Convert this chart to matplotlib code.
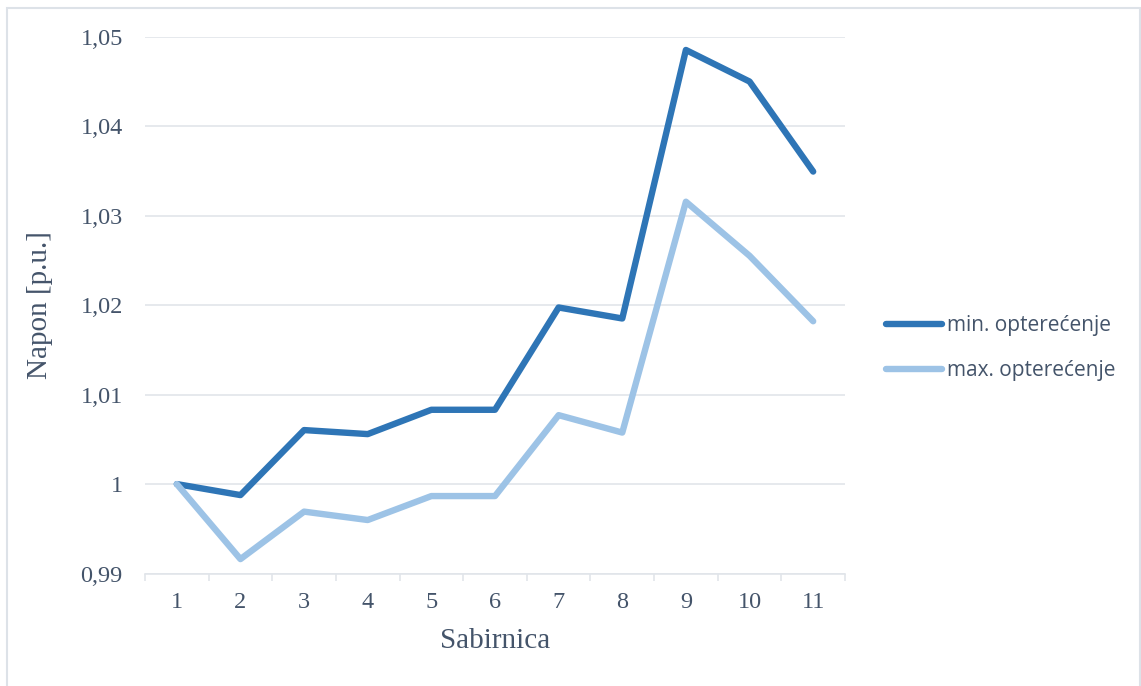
import matplotlib
matplotlib.use("Agg")
import matplotlib.pyplot as plt
from matplotlib.patches import Rectangle
from matplotlib.ticker import FuncFormatter, MultipleLocator

# Podaci
sabirnice = [1, 2, 3, 4, 5, 6, 7, 8, 9, 10, 11]
napon_min = [1.0, 0.99877, 1.00604, 1.00559, 1.00831, 1.00831,
             1.01975, 1.01852, 1.04855, 1.04502, 1.03495]
napon_max = [1.0, 0.99161, 0.99692, 0.99598, 0.99866, 0.99866,
             1.00771, 1.00576, 1.03158, 1.02553, 1.01821]

TEXT = "#44546A"
GRID = "#E1E5EA"
SERIF = "Liberation Serif"

fig = plt.figure(figsize=(11.41, 6.86), dpi=100)
ax = fig.add_axes([145 / 1141, 1 - 573.5 / 686, 700 / 1141, 536.5 / 686])

# okvir oko cijelog grafikona
fig.patches.append(Rectangle((7 / 1141, -0.05), 1133 / 1141, 1.05 - 8.5 / 686,
                             transform=fig.transFigure, fill=False,
                             edgecolor="#DDE2E8", linewidth=1.5))

ax.plot(sabirnice, napon_min, color="#2E75B6", lw=4.6,
        solid_capstyle="round", solid_joinstyle="round", label="min. opterećenje")
ax.plot(sabirnice, napon_max, color="#9DC3E6", lw=4.6,
        solid_capstyle="round", solid_joinstyle="round", label="max. opterećenje")

ax.set_xlim(0.5, 11.5)
ax.set_ylim(0.99, 1.05)
ax.yaxis.set_major_locator(MultipleLocator(0.01))
ax.yaxis.set_major_formatter(FuncFormatter(
    lambda v, _: ("%g" % round(v, 2)).replace(".", ",")))
ax.set_xticks(sabirnice)
ax.set_xticks([i + 0.5 for i in range(0, 12)], minor=True)

ax.grid(axis="y", color=GRID, lw=1.2)
ax.set_axisbelow(True)
for s in ["top", "right", "left"]:
    ax.spines[s].set_visible(False)
ax.spines["bottom"].set_color(GRID)
ax.spines["bottom"].set_linewidth(1.2)

ax.tick_params(axis="x", which="major", length=0, pad=13)
ax.tick_params(axis="x", which="minor", length=5, width=1.2, color=GRID)
ax.tick_params(axis="y", length=0, pad=16)
for lab in ax.get_xticklabels() + ax.get_yticklabels():
    lab.set_fontfamily(SERIF)
    lab.set_fontsize(17.5)
    lab.set_color(TEXT)

ax.set_xlabel("Sabirnica", fontfamily=SERIF, fontsize=21, color=TEXT, labelpad=11)
ax.set_ylabel("Napon [p.u.]", fontfamily=SERIF, fontsize=21, color=TEXT, labelpad=20)

leg = ax.legend(loc="center left", bbox_to_anchor=(1.032, 0.42), frameon=False,
                prop={"family": "Open Sans", "size": 15}, handlelength=2.7,
                handletextpad=0.2, labelspacing=1.14, labelcolor=TEXT)

fig.savefig("out.png", dpi=100)
